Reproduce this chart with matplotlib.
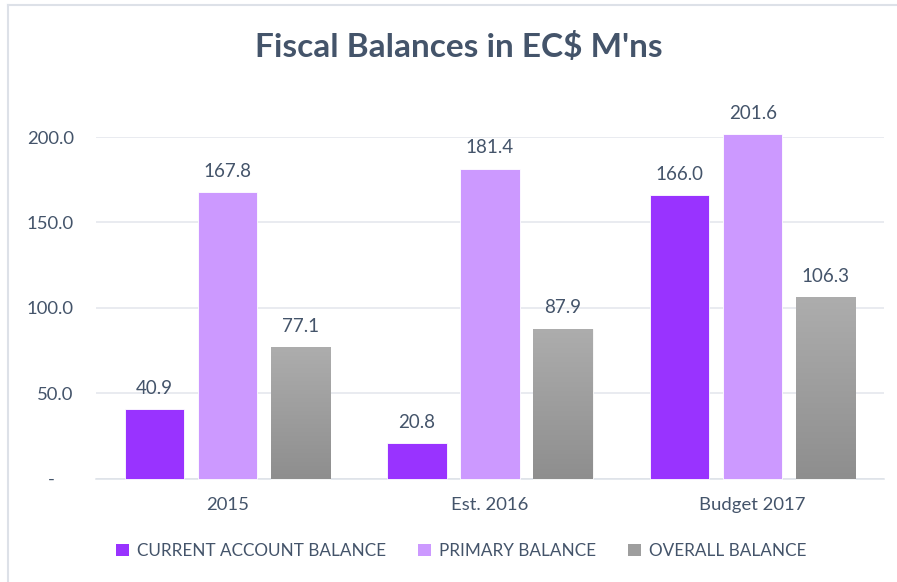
import numpy as np
import matplotlib
matplotlib.use('Agg')
from matplotlib import pyplot as plt
from matplotlib.lines import Line2D
from matplotlib.patches import Patch

categories = ['2015', 'Est. 2016', 'Budget 2017']
series = ['CURRENT ACCOUNT BALANCE', 'PRIMARY BALANCE', 'OVERALL BALANCE']
current_account = [40.9, 20.8, 166.0]
primary = [167.8, 181.4, 201.6]
overall = [77.1, 87.9, 106.3]
y_ticks = [0, 50, 100, 150, 200]
y_tick_labels = ['-    ', '50.0', '100.0', '150.0', '200.0']

text_color = '#44546a'
colors = ['#9933ff', '#cc99ff', '#9e9e9e']

plt.rcParams['font.family'] = ['Lato', 'DejaVu Sans']

fig = plt.figure(figsize=(8.97, 5.82), dpi=100)
ax = fig.add_axes([0.107, 0.177, 0.8785, 0.5876])

x = np.arange(len(categories))
width = 0.225
offset = 0.278

values = [current_account, primary, overall]
for i, vals in enumerate(values):
    pos = x + (i - 1) * offset
    bars = ax.bar(pos, vals, width, color=colors[i], zorder=3, clip_on=False,
                  edgecolor='white', linewidth=0.6)
    if i == 2:
        # grey bars have a vertical gradient
        grad = np.linspace(0, 1, 256).reshape(-1, 1)
        cmap = matplotlib.colors.LinearSegmentedColormap.from_list('g', ['#8e8e8e', '#adadad'])
        for b in bars:
            im = ax.imshow(grad, cmap=cmap, aspect='auto', origin='lower', zorder=4,
                           extent=[b.get_x(), b.get_x() + b.get_width(), 0, b.get_height()])
            im.set_clip_path(b)
    for px, v in zip(pos, vals):
        ax.annotate(f'{v:.1f}', (px, v), xytext=(0, 9), textcoords='offset points',
                    ha='center', va='bottom', fontsize=13.5, color=text_color,
                    annotation_clip=False)

ax.set_xlim(-0.5, 2.5)
ax.set_ylim(0, 200)
ax.set_yticks(y_ticks)
ax.set_yticklabels(y_tick_labels)
ax.set_xticks(x)
ax.set_xticklabels(categories)
ax.tick_params(axis='both', length=0, labelsize=13.3, labelcolor=text_color)
ax.tick_params(axis='x', pad=13)
ax.tick_params(axis='y', pad=16)
ax.grid(axis='y', color='#e3e6ec', linewidth=1.1, zorder=0)
for s in ['top', 'right', 'left']:
    ax.spines[s].set_visible(False)
ax.spines['bottom'].set_color('#dde1e8')
ax.spines['bottom'].set_linewidth(1.1)

fig.text(0.511, 0.919, "Fiscal Balances in EC$ M'ns", ha='center', va='center',
         fontsize=24, fontweight='bold', color=text_color)

handles = [Patch(facecolor=c, edgecolor='none') for c in colors]
leg = fig.legend(handles, series, loc='center', bbox_to_anchor=(0.514, 0.053), ncol=3,
                 frameon=False, fontsize=12.3, handlelength=0.75, handleheight=0.75,
                 handletextpad=0.45, columnspacing=1.9, labelcolor=text_color)

# outer chart frame (top and left edges visible)
fig.add_artist(Line2D([0.009, 1.0], [0.991, 0.991], transform=fig.transFigure, color='#dde1e8', linewidth=1.5))
fig.add_artist(Line2D([0.009, 0.009], [0.0, 0.991], transform=fig.transFigure, color='#dde1e8', linewidth=1.5))

fig.savefig('out.png', dpi=100)
